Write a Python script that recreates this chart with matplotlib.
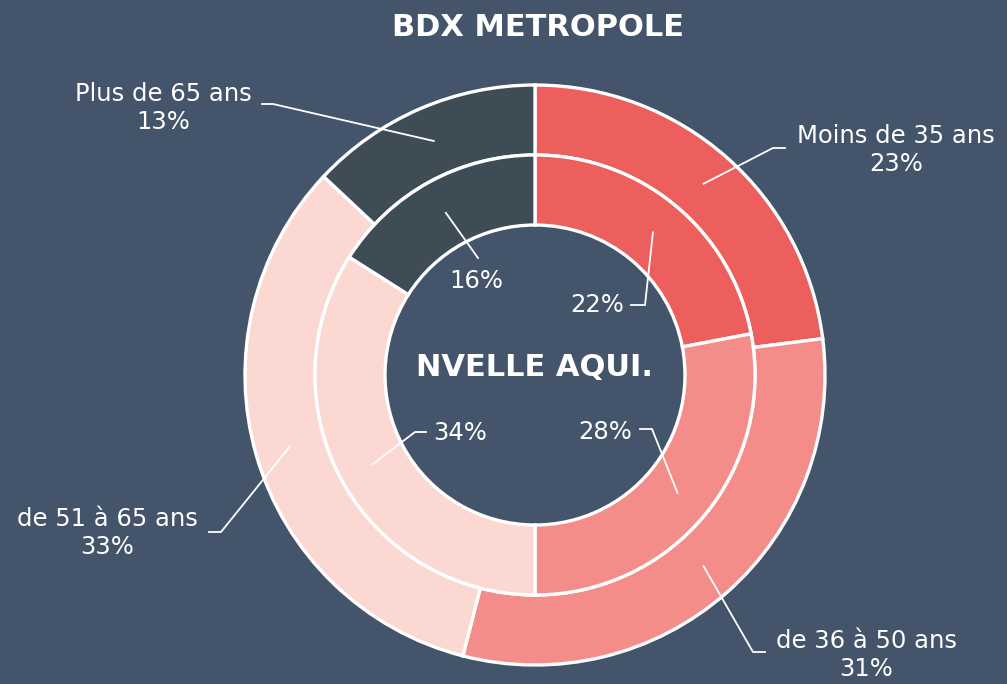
import numpy as np
import matplotlib.pyplot as plt

# age groups, Bordeaux Métropole (outer ring) vs Nouvelle-Aquitaine (inner ring)
categories = ['Moins de 35 ans', 'de 36 à 50 ans', 'de 51 à 65 ans', 'Plus de 65 ans']
outer_vals = [23, 31, 33, 13]
inner_vals = [22, 28, 34, 16]
colors = ['#EC5F5C', '#F48D8A', '#FBD8D2', '#3E4D55']

bg = '#44546A'
W, H = 1007, 684
cx, cy = 535, 375          # pie centre in pixels
r_out, r_mid, r_in = 290, 220, 150

# label layout in pixels: text centre, elbow, end of horizontal stub
outer_text = [(896, 150), (866, 655), (107, 533), (163, 108)]
outer_elbow = [(773, 148), (753, 652), (221, 532), (273, 104)]
outer_stub = [(785, 148), (765, 652), (209, 532), (262, 104)]
inner_text = [(597, 305), (605, 432), (460, 433), (476, 281)]
inner_elbow = [(645, 305), (652, 429), (415, 432), (478, 258)]
inner_stub = [(631, 305), (640, 429), (426, 432), (478, 258)]

plt.rcParams['font.family'] = ['DejaVu Sans']


def px(p):
    return p[0] - cx, cy - p[1]


fig = plt.figure(figsize=(W / 100, H / 100), dpi=100, facecolor=bg)
ax = fig.add_axes([0, 0, 1, 1])
ax.set_facecolor(bg)
ax.set_aspect('equal')
ax.axis('off')

wp = dict(edgecolor='white', linewidth=2.4)
outer_w, _ = ax.pie(outer_vals, colors=colors, radius=r_out, startangle=90,
                    counterclock=False, wedgeprops=dict(width=r_out - r_mid, **wp))
inner_w, _ = ax.pie(inner_vals, colors=colors, radius=r_mid, startangle=90,
                    counterclock=False, wedgeprops=dict(width=r_mid - r_in, **wp))
ax.set_xlim(-cx, W - cx)
ax.set_ylim(cy - H, cy)


def leader(wedge, r, elbow, stub):
    ang = np.deg2rad((wedge.theta1 + wedge.theta2) / 2)
    x0, y0 = r * np.cos(ang), r * np.sin(ang)
    e, s = px(elbow), px(stub)
    ax.plot([x0, e[0], s[0]], [y0, e[1], s[1]], color='white', lw=1.3,
            solid_joinstyle='miter', zorder=5)


for i, w in enumerate(outer_w):
    leader(w, (r_out + r_mid) / 2, outer_elbow[i], outer_stub[i])
    tx, ty = px(outer_text[i])
    ax.text(tx, ty, f'{categories[i]}\n{outer_vals[i]}%', ha='center', va='center',
            color='white', fontsize=17.5, linespacing=1.22)

for i, w in enumerate(inner_w):
    leader(w, (r_mid + r_in) / 2, inner_elbow[i], inner_stub[i])
    tx, ty = px(inner_text[i])
    ax.text(tx, ty, f'{inner_vals[i]}%', ha='center', va='center',
            color='white', fontsize=17.5)

ax.text(0, cy - 368, 'NVELLE AQUI.', ha='center', va='center', color='white',
        fontsize=22, fontweight='bold')
ax.text(*px((538, 27)), 'BDX METROPOLE', ha='center', va='center', color='white',
        fontsize=22, fontweight='bold')

fig.savefig('out.png', dpi=100, facecolor=bg)
